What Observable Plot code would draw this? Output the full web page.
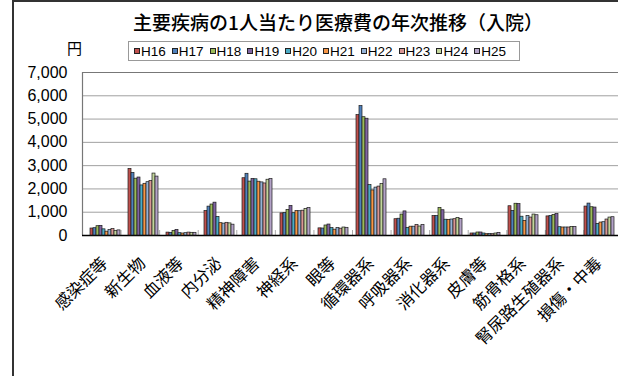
<!DOCTYPE html>
<html>
<head>
<meta charset="utf-8">
<script src="https://cdn.jsdelivr.net/npm/d3@7"></script>
<script src="https://cdn.jsdelivr.net/npm/@observablehq/plot@0.6"></script>
<style>
  html, body { margin: 0; padding: 0; background: #fff; overflow: hidden; width: 618px; height: 376px; }
  #wrap { position: relative; width: 618px; height: 376px; overflow: hidden; }
  #frame { position: absolute; left: 12px; top: 0; width: 700px; height: 500px; border-left: 2px solid #333; border-top: 2px solid #333; }
  #title { position: absolute; left: 0; width: 676px; top: 10px; line-height: 24px; text-align: center;
           font-family: "Noto Sans CJK JP", sans-serif; font-weight: 500; font-size: 19px; color: #000; }
  #unit { position: absolute; left: 67px; top: 38px; font-family: "Noto Sans CJK JP", sans-serif; font-size: 15px; line-height: 20px; }
  #legend { position: absolute; left: 128px; top: 41px; width: 385px; height: 18px; border: 1px solid #999; background: #fff;
            display: flex; align-items: center; padding-left: 5px; box-sizing: content-box; }
  .item { display: flex; align-items: center; width: 37.8px; font-family: "Liberation Sans", Arial, sans-serif; font-size: 13.5px; color: #000; white-space: nowrap; }
  .sw { width: 6px; height: 6px; border: 1px solid #222; margin-right: 1px; flex: none; box-sizing: border-box; }
  #charts { position: absolute; left: 0; top: 62px; width: 626px; height: 314px; }
  #charts svg { position: absolute; left: 0; top: 0; overflow: visible; }
</style>
</head>
<body>
<div id="wrap">
  <div id="frame"></div>
  <div id="title"></div>
  <div id="unit"></div>
  <div id="legend"></div>
  <div id="charts"></div>
</div>
<script>
const titleText = "主要疾病の1人当たり医療費の年次推移（入院）";
const unitText = "円";
const categories = ["感染症等","新生物","血液等","内分泌","精神障害","神経系","眼等","循環器系","呼吸器系","消化器系","皮膚等","筋骨格系","腎尿路生殖器系","損傷・中毒"];
const years = ["H16","H17","H18","H19","H20","H21","H22","H23","H24","H25"];
const colors = ["#C0504D","#4F81BD","#9BBB59","#8064A2","#4BACC6","#F79646","#95B3D7","#D99694","#C3D69B","#B3A2C7"];
const yTicks = [0,1000,2000,3000,4000,5000,6000,7000];

const H16 = [300, 2860, 125, 1050, 2460, 950, 307, 5170, 700, 835, 86, 1257, 820, 1243];
const H17 = [314, 2690, 115, 1240, 2650, 965, 300, 5557, 720, 835, 86, 1057, 836, 1371];
const H18 = [400, 2440, 200, 1330, 2315, 1100, 430, 5080, 900, 1186, 129, 1364, 886, 1214];
const H19 = [414, 2490, 240, 1410, 2430, 1270, 471, 5015, 1035, 1085, 129, 1350, 920, 1200];
const H20 = [265, 2150, 100, 800, 2415, 957, 320, 2165, 329, 678, 86, 807, 357, 500];
const H21 = [165, 2220, 85, 530, 2310, 1050, 250, 1935, 378, 671, 57, 629, 343, 557];
const H22 = [235, 2290, 100, 510, 2280, 1043, 320, 2057, 378, 686, 71, 843, 343, 571];
const H23 = [280, 2340, 125, 545, 2235, 1065, 293, 2100, 450, 700, 57, 771, 343, 686];
const H24 = [195, 2660, 115, 520, 2395, 1135, 343, 2207, 386, 757, 86, 900, 371, 771];
const H25 = [220, 2530, 115, 465, 2420, 1180, 330, 2414, 450, 714, 114, 871, 371, 786];

const series = [H16,H17,H18,H19,H20,H21,H22,H23,H24,H25];
const data = [];
categories.forEach((c, i) => years.forEach((y, j) => data.push({cat: c, year: y, value: series[j][i]})));

document.getElementById("title").textContent = titleText;
document.getElementById("unit").textContent = unitText;
const legend = document.getElementById("legend");
years.forEach((y, j) => {
  const it = document.createElement("div"); it.className = "item";
  const sw = document.createElement("span"); sw.className = "sw"; sw.style.background = colors[j];
  const t = document.createElement("span"); t.textContent = y;
  it.appendChild(sw); it.appendChild(t); legend.appendChild(it);
});

const W = 626, H = 314, mT = 10, mB = 141, mL = 82, mR = 4;

const bg = Plot.plot({
  width: W, height: H, marginTop: mT, marginBottom: mB, marginLeft: mL, marginRight: mR,
  style: {fontFamily: "'Liberation Sans', Arial, sans-serif", fontSize: "16px", color: "#000", background: "transparent"},
  x: {type: "linear", domain: [0, categories.length], axis: null},
  y: {domain: [0, 7000], ticks: yTicks, tickFormat: d3.format(","), tickSize: 0, tickPadding: 15, label: null},
  marks: [
    Plot.ruleY(yTicks.slice(1, -1), {stroke: "#a0a0a0", strokeWidth: 1}),
    Plot.ruleY([7000], {stroke: "#777", strokeWidth: 1.2}),
    Plot.ruleX([0], {stroke: "#777", strokeWidth: 1.2}),
    Plot.ruleX(d3.range(1, categories.length), {y1: 0, y2: 0, insetTop: -5, stroke: "#aaa"}),
    Plot.ruleY([0], {stroke: "#000", strokeWidth: 1.5})
  ]
});

const fg = Plot.plot({
  width: W, height: H, marginTop: mT, marginBottom: mB, marginLeft: mL, marginRight: mR,
  style: {fontFamily: "'Noto Sans CJK JP', sans-serif", fontSize: "16.5px", color: "#000", background: "transparent"},
  fx: {domain: categories, paddingInner: 0.067, paddingOuter: 0.0335, label: null, tickRotate: -45, tickSize: 0, tickPadding: 25},
  x: {domain: years, padding: 0, axis: null},
  y: {domain: [0, 7000], axis: null},
  color: {domain: years, range: colors},
  marks: [
    Plot.barY(data, {fx: "cat", x: "year", y: "value", fill: "year", stroke: "#1a1a1a", strokeWidth: 0.7})
  ]
});

const charts = document.getElementById("charts");
charts.appendChild(bg);
charts.appendChild(fg);
</script>
</body>
</html>
